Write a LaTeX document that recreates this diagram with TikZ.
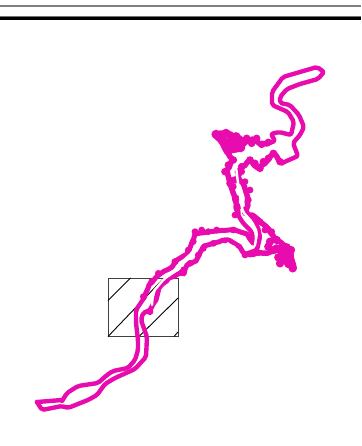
\documentclass[tikz,border=0pt]{standalone}
\usetikzlibrary{decorations.pathmorphing}
\definecolor{river}{HTML}{E80CAE}
\tikzset{
  x=1pt,y=-1pt,
  smoothbank/.style={draw=river,line width=4.4pt,line join=round,line cap=round,rounded corners=2pt},
  midbank/.style={draw=river,line width=5pt,line join=round,line cap=round,
    decorate,decoration={random steps,segment length=5pt,amplitude=0.5pt}},
  blobbank/.style={draw=river,line width=5.5pt,line join=round,line cap=round,
    decorate,decoration={random steps,segment length=4pt,amplitude=0.8pt}},
  channel/.style={draw=white,line width=2.4pt,line join=round,line cap=round,rounded corners=2pt},
  hatch/.style={draw=black,line width=0.9pt},
  frame/.style={draw=black!75,line width=0.9pt}
}
\pgfmathsetseed{7}
\begin{document}
\begin{tikzpicture}
\useasboundingbox (0,0) rectangle (361,446);
% header rules
\fill[black!50] (0,5) rectangle (361,7);
\fill[black!55] (0,16) rectangle (361,17);
\fill[black] (0,17) rectangle (361,20);
% hatched box
\draw[frame] (108,278) rectangle (178,336.5);
\draw[hatch] (108,300.5) -- (130.5,278);
\draw[hatch] (108,336.5) -- (164,278);
\draw[hatch] (139,336.5) -- (178,298);
\draw[hatch] (174,336.5) -- (178,332);
% lower river, upper bank
\draw[smoothbank] (62,401) -- (67,393) -- (78,386) -- (98,383) -- (107,375) -- (113,371) -- (128,368) -- (135,360) -- (138,350) -- (138,340) -- (136,323) -- (136,310) -- (144,298);
\draw[midbank] (144,298) -- (149,285) -- (160,274) -- (172,267);
\draw[midbank] (172,267) -- (177,260) -- (187,254) -- (190,248) -- (195,234);
\draw[midbank] (195,234) -- (217,231) -- (235,230) -- (247,234) -- (253,243);
\draw[smoothbank] (253,243) -- (252,232) -- (243,223) -- (238,215);
% lower river, lower bank
\draw[smoothbank] (37,402) -- (62,400);
\draw[smoothbank] (37,402) -- (42,410) -- (62,406) -- (68,408) -- (88,400) -- (97,395) -- (105,384) -- (115,378) -- (135,369) -- (146,357) -- (147,337) -- (141,320) -- (143,313) -- (150,310);
\draw[midbank] (150,310) -- (149,312) -- (156,300) -- (159,288) -- (169,278) -- (183,272) -- (184,274) -- (187,265) -- (196,261) -- (204,246) -- (214,243) -- (228,239) -- (237,244) -- (245,254);
\draw[smoothbank] (245,254) -- (257,250) -- (260,237) -- (258,227) -- (247,212);
% east branch
\draw[blobbank] (245,213) -- (255,217) -- (263,224) -- (270,232) -- (277,240) -- (287,247) -- (291,254) -- (294,268);
\draw[blobbank] (294,268) -- (284,260) -- (280,250) -- (268,253) -- (262,253) -- (248,254);
\draw[blobbank] (283,250) -- (290,258) -- (285,262);
% north-going channel, left side
\draw[blobbank] (238,215) -- (235,200) -- (230,183) -- (227,170) -- (233,160) -- (226,151) -- (242,148) -- (227,152) -- (222,143) -- (215,134) -- (226,133) -- (238,137) -- (247,142) -- (253,139) -- (260,144) -- (267,144);
\draw[smoothbank] (267,144) -- (275,141) -- (271,134) -- (279,132) -- (287,134) -- (291,135) -- (294,122) -- (288,112) -- (272,105) -- (272,92) -- (283,77) -- (300,72) -- (317,67) -- (324,72) -- (318,79) -- (300,84) -- (287,89) -- (280,97) -- (280,103) -- (290,105) -- (299,115) -- (304,127) -- (300,135) -- (293,143) -- (298,156) -- (282,163);
% north-going channel, right side
\draw[blobbank] (282,163) -- (274,153) -- (268,160) -- (258,168) -- (250,160) -- (242,167) -- (238,177) -- (243,183) -- (247,195) -- (248,205) -- (245,213);
% upper lobe, nearly solid
\foreach \a/\b in {48/238,60/240,78/235,95/248,70/258,78/272,85/288,100/275,115/258,122/278,108/245,88/262,100/260}
  \fill[river] ({200+\a/3},{55+\b/3}) circle (4.6);
% scalloped edge: upper fork
\foreach \a/\b in {140/250,155/265,170/250,185/268,205/262,130/265,75/350,85/330,100/315,90/385,105/375,115/350,125/335,150/315,165/325,180/340,190/320,205/310,220/295,240/320}
  \fill[river] ({200+\a/3},{55+\b/3}) circle (3.8);
% scalloped edge: fork and east branch
\foreach \a/\b in {165/5,180/30,190/50,200/85,205/110,195/135,215/5,225/35,240/60,235/90,225/120,250/140,270/155,285/180,305/185,265/248,225/255,205/225,130/220,165/210,100/235,85/255,75/185,95/180,140/180,115/185,190/180,70/215,55/240,15/275,40/300,60/280}
  \fill[river] ({170+\a/3},{170+\b/3}) circle (3.4);
% east lobe
\foreach \a/\b in {320/210,300/215,335/235,350/232,363/240,345/270,325/262,310/240,295/230,368/295,355/282,330/280,320/235}
  \fill[river] ({170+\a/3},{170+\b/3}) circle (4.2);
% scalloped edge: inside the hatched box
\foreach \a/\b in {155/95,175/70,245/68,225/35,265/5,150/185,130/140}
  \fill[river] ({100+\a/3},{250+\b/3}) circle (3.4);
% open water between the banks
\draw[channel] (236,167) -- (238,183) -- (241,203) -- (243,212) -- (252,222) -- (257,232) -- (255,245);
\draw[channel] (183,261) -- (192,253) -- (198,242) -- (210,237) -- (230,236) -- (241,243) -- (251,248);
\draw[channel] (152,305) -- (153,292) -- (164,279) -- (180,268);
\end{tikzpicture}
\end{document}
